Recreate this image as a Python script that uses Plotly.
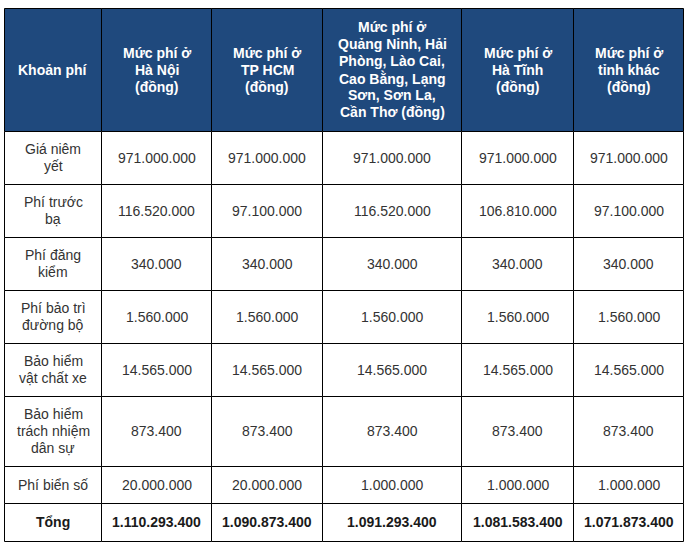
import plotly.graph_objects as go

# ---------------- data ----------------
headers = [
    "Khoản phí",
    "Mức phí ở<br>Hà Nội<br>(đồng)",
    "Mức phí ở<br>TP HCM<br>(đồng)",
    "Mức phí ở<br>Quảng Ninh, Hải<br>Phòng, Lào Cai,<br>Cao Bằng, Lạng<br>Sơn, Sơn La,<br>Cần Thơ (đồng)",
    "Mức phí ở<br>Hà Tĩnh<br>(đồng)",
    "Mức phí ở<br>tỉnh khác<br>(đồng)",
]
fee_items = [
    "Giá niêm<br>yết",
    "Phí trước<br>bạ",
    "Phí đăng<br>kiểm",
    "Phí bảo trì<br>đường bộ",
    "Bảo hiểm<br>vật chất xe",
    "Bảo hiểm<br>trách nhiệm<br>dân sự",
    "Phí biển số",
    "Tổng",
]
ha_noi = ["971.000.000", "116.520.000", "340.000", "1.560.000", "14.565.000", "873.400", "20.000.000", "1.110.293.400"]
tp_hcm = ["971.000.000", "97.100.000", "340.000", "1.560.000", "14.565.000", "873.400", "20.000.000", "1.090.873.400"]
quang_ninh = ["971.000.000", "116.520.000", "340.000", "1.560.000", "14.565.000", "873.400", "1.000.000", "1.091.293.400"]
ha_tinh = ["971.000.000", "106.810.000", "340.000", "1.560.000", "14.565.000", "873.400", "1.000.000", "1.081.583.400"]
tinh_khac = ["971.000.000", "97.100.000", "340.000", "1.560.000", "14.565.000", "873.400", "1.000.000", "1.071.873.400"]

columns = [fee_items, ha_noi, tp_hcm, quang_ninh, ha_tinh, tinh_khac]

# ---------------- layout / style ----------------
W, H = 690, 546
X0, Y0 = 4, 8
col_widths = [97, 110, 111, 139, 112, 110]
row_heights = [123, 53, 53, 53, 53, 53, 70, 37, 38]   # header + body rows
LINE_H = 17
FONT = "Liberation Sans, Arial, Helvetica, sans-serif"
FS = 14
HEADER_BG = "#1f497d"
BODY_COLOR = "#333333"
TOTAL_COLOR = "#1a1a1a"

col_edges = [X0]
for w in col_widths:
    col_edges.append(col_edges[-1] + w)
row_edges = [Y0]
for h in row_heights:
    row_edges.append(row_edges[-1] + h)

fig = go.Figure()
shapes = []
annotations = []


def add_cell_text(text, cx, cy, color, bold):
    lines = text.split("<br>")
    n = len(lines)
    for i, ln in enumerate(lines):
        t = f"<b>{ln}</b>" if bold else ln
        annotations.append(dict(
            x=cx, y=cy + (i - (n - 1) / 2) * LINE_H, xref="x", yref="y",
            text=t, showarrow=False, xanchor="center", yanchor="middle",
            font=dict(family=FONT, size=FS, color=color),
        ))


n_rows = len(fee_items) + 1
for r in range(n_rows):
    top, bot = row_edges[r], row_edges[r + 1]
    for c in range(len(columns)):
        left, right = col_edges[c], col_edges[c + 1]
        shapes.append(dict(
            type="rect", xref="x", yref="y",
            x0=left + 0.5, x1=right + 0.5, y0=top + 0.5, y1=bot + 0.5,
            fillcolor=HEADER_BG if r == 0 else "white",
            line=dict(color="black", width=1), layer="below",
        ))
        cx, cy = (left + right) / 2 + 0.5, (top + bot) / 2
        if r == 0:
            add_cell_text(headers[c], cx, cy, "white", True)
        else:
            is_total = (r == n_rows - 1)
            add_cell_text(columns[c][r - 1], cx, cy,
                          TOTAL_COLOR if is_total else BODY_COLOR, is_total)

fig.update_layout(
    width=W, height=H, margin=dict(l=0, r=0, t=0, b=0),
    paper_bgcolor="white", plot_bgcolor="white",
    xaxis=dict(range=[0, W], visible=False, fixedrange=True),
    yaxis=dict(range=[H, 0], visible=False, fixedrange=True),
    shapes=shapes, annotations=annotations, showlegend=False,
)
fig.write_html("out.html", config={"displayModeBar": False},
               post_script="document.body.style.margin='0px';")
